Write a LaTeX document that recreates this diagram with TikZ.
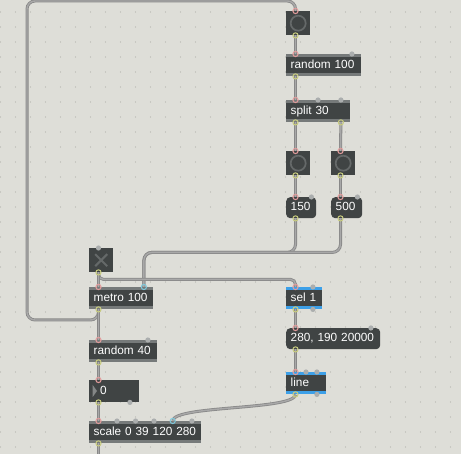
\documentclass[tikz,border=0pt]{standalone}
\usepackage{fontspec}
\newfontfamily\patchfont{Liberation Sans}
\definecolor{patchbg}{HTML}{DEDED8}
\definecolor{griddot}{HTML}{B2B2AC}
\definecolor{boxdark}{HTML}{404444}
\definecolor{boxstripe}{HTML}{767A7A}
\definecolor{selblue}{HTML}{3DA0E8}
\definecolor{ringgrey}{HTML}{656969}
\definecolor{wireedge}{HTML}{888888}
\definecolor{wirecore}{HTML}{A8A8A8}
\definecolor{inhot}{HTML}{E39C9C}
\definecolor{incold}{HTML}{7CC9DC}
\definecolor{outcol}{HTML}{C7CB7E}
\definecolor{unused}{HTML}{ABAEAE}

\begin{document}
\begin{tikzpicture}[x=1pt,y=-1pt,
  box/.style={fill=boxdark, anchor=north west, inner sep=0pt, text=white,
    font=\patchfont\fontsize{11.8}{13}\selectfont},
  stripes/.style={path picture={
    \fill[#1] (path picture bounding box.north west) rectangle ([yshift=-3pt]path picture bounding box.north east);
    \fill[#1] (path picture bounding box.south west) rectangle ([yshift=3pt]path picture bounding box.south east);}},
  obj/.style={box, inner xsep=4.5pt, text width=#1, align=left, minimum height=22pt,
    text height=8.5pt, text depth=2.5pt, stripes=boxstripe},
  selobj/.style={obj=#1, stripes=selblue},
  numbox/.style={box, inner xsep=4.5pt, text width=#1, align=left, minimum height=21pt,
    text height=8.5pt, text depth=2.5pt, rounded corners=4pt},
  bang/.style={box, minimum size=24pt, path picture={
    \draw[ringgrey, line width=1.7pt] (path picture bounding box.center) circle (7.5pt);}},
  tglbox/.style={box, minimum size=24pt, path picture={
    \draw[ringgrey, line width=2pt]
      ([shift={(-6pt,-6pt)}]path picture bounding box.center) -- ([shift={(6pt,6pt)}]path picture bounding box.center)
      ([shift={(-6pt,6pt)}]path picture bounding box.center) -- ([shift={(6pt,-6pt)}]path picture bounding box.center);}},
  wire/.style={draw=wireedge, line width=0.8pt, double=wirecore, double distance=1.4pt, rounded corners=8pt},
  hot/.style={draw=inhot, line width=1pt},
  cold/.style={draw=incold, line width=1pt},
  outlet/.style={draw=outcol, line width=1pt},
  spare/.style={fill=unused}]
  \useasboundingbox (0,0) rectangle (461,454);
  \fill[patchbg] (0,0) rectangle (461,454);
  \foreach \gx in {0,...,30}
    \foreach \gy in {0,...,29}
      \fill[griddot] (15*\gx+0.5, 15*\gy+12) circle (0.6pt);

  % right column
  \node[bang] (bangA) at (286,11) {};
  \node[obj=66pt] (rnd100) at (286,54) {random 100};
  \node[obj=55pt] (split) at (286,100) {split 30};
  \node[bang] (bangB) at (286,151) {};
  \node[bang] (bangC) at (331,151) {};
  \node[numbox=21pt] (num150) at (286,197) {150};
  \node[numbox=22pt] (num500) at (331,197) {500};
  \node[selobj=27pt] (sel) at (286,287) {sel 1};
  \node[numbox=85pt] (msg) at (286,328) {280, 190 20000};
  \node[selobj=31pt] (line) at (286,372) {line};

  % left column
  \node[tglbox] (tgl) at (89,248) {};
  \node[obj=55pt] (metro) at (89,287) {metro 100};
  \node[obj=59pt] (rnd40) at (89,340) {random 40};
  \node[box, inner xsep=4.5pt, text width=41pt, align=left, minimum height=22pt,
    text height=8.5pt, text depth=2.5pt] (num0) at (89,380) {\hspace*{6.5pt}0};
  \fill[boxstripe!90] (92.7,385) -- (92.7,397) -- (97,391) -- cycle;
  \node[obj=103pt] (scale) at (89,421) {scale 0 39 120 280};
  \coordinate (scaleout) at (98.5,454);

  % patch cords
  \draw[wire] ([xshift=9.5pt]metro.south west) |- (27,320) -- (27,1) -| ([xshift=9.5pt]bangA.north west);
  \draw[wire] ([xshift=9.5pt]bangA.south west) -- ([xshift=9.5pt]rnd100.north west);
  \draw[wire] ([xshift=9.5pt]rnd100.south west) -- ([xshift=9.5pt]split.north west);
  \draw[wire] ([xshift=9.5pt]split.south west) -- ([xshift=9.5pt]bangB.north west);
  \draw[wire] ([xshift=-9.5pt]split.south east) -- ([xshift=9.5pt]bangC.north west);
  \draw[wire] ([xshift=9.5pt]bangB.south west) -- ([xshift=9.5pt]num150.north west);
  \draw[wire] ([xshift=9.5pt]bangC.south west) -- ([xshift=9.5pt]num500.north west);
  \draw[wire] ([xshift=9.5pt]num150.south west) -- ++(0,34) -| ([xshift=-9.5pt]metro.north east);
  \draw[wire] ([xshift=9.5pt]num500.south west) -- ++(0,34) -| ([xshift=-9.5pt]metro.north east);
  \draw[wire, rounded corners=5pt] ([xshift=9.5pt]tgl.south west) -- ++(0,7) -| ([xshift=9.5pt]sel.north west);
  \draw[wire] ([xshift=9.5pt]tgl.south west) -- ([xshift=9.5pt]metro.north west);
  \draw[wire] ([xshift=9.5pt]metro.south west) -- ([xshift=9.5pt]rnd40.north west);
  \draw[wire] ([xshift=9.5pt]rnd40.south west) -- ([xshift=9.5pt]num0.north west);
  \draw[wire] ([xshift=9.5pt]num0.south west) -- ([xshift=9.5pt]scale.north west);
  \draw[wire] ([xshift=9.5pt]scale.south west) -- (scaleout);
  \draw[wire] ([xshift=9.5pt]sel.south west) -- ([xshift=9.5pt]msg.north west);
  \draw[wire] ([xshift=9.5pt]msg.south west) -- ([xshift=9.5pt]line.north west);
  \draw[wire] ([xshift=9.5pt]line.south west) .. controls +(0,16) and +(0,-16) .. ([xshift=83.7pt]scale.north west);

  % inlets and outlets
  \foreach \n in {bangA,rnd100,split,bangB,bangC,num150,num500,metro,sel,msg,line,rnd40,num0,scale}
    \draw[hot] ([xshift=9.5pt]\n.north west) circle (2.6pt);
  \draw[cold] ([xshift=-9.5pt]metro.north east) circle (2.6pt);
  \draw[cold] ([xshift=83.7pt]scale.north west) circle (2.6pt);
  \foreach \n in {bangA,rnd100,split,bangB,bangC,num150,num500,tgl,metro,sel,msg,line,rnd40,num0,scale}
    \draw[outlet] ([xshift=9.5pt]\n.south west) circle (2.6pt);
  \draw[outlet] ([xshift=-9.5pt]split.south east) circle (2.6pt);
  \fill[spare] ([xshift=-9.5pt]rnd100.north east) circle (2.6pt);
  \fill[spare] ([xshift=32pt]split.north west) circle (2.6pt);
  \fill[spare] ([xshift=-9.5pt]split.north east) circle (2.6pt);
  \fill[spare] ([xshift=-5pt]num150.north east) circle (2.6pt);
  \fill[spare] ([xshift=-5pt]num500.north east) circle (2.6pt);
  \fill[spare] ([xshift=9.5pt]tgl.north west) circle (2.6pt);
  \fill[spare] ([xshift=-9.5pt]sel.north east) circle (2.6pt);
  \fill[spare] ([xshift=-9.5pt]sel.south east) circle (2.6pt);
  \fill[spare] ([xshift=-9.5pt]msg.north east) circle (2.6pt);
  \fill[spare] ([xshift=20pt]line.north west) circle (2.6pt);
  \fill[spare] ([xshift=-9.5pt]line.north east) circle (2.6pt);
  \fill[spare] ([xshift=-9.5pt]line.south east) circle (2.6pt);
  \fill[spare] ([xshift=-9.5pt]rnd40.north east) circle (2.6pt);
  \fill[spare] ([xshift=-9.5pt]num0.south east) circle (2.6pt);
  \fill[spare] ([xshift=28pt]scale.north west) circle (2.6pt);
  \fill[spare] ([xshift=46.6pt]scale.north west) circle (2.6pt);
  \fill[spare] ([xshift=65pt]scale.north west) circle (2.6pt);
  \fill[spare] ([xshift=-9.5pt]scale.north east) circle (2.6pt);
\end{tikzpicture}
\end{document}
